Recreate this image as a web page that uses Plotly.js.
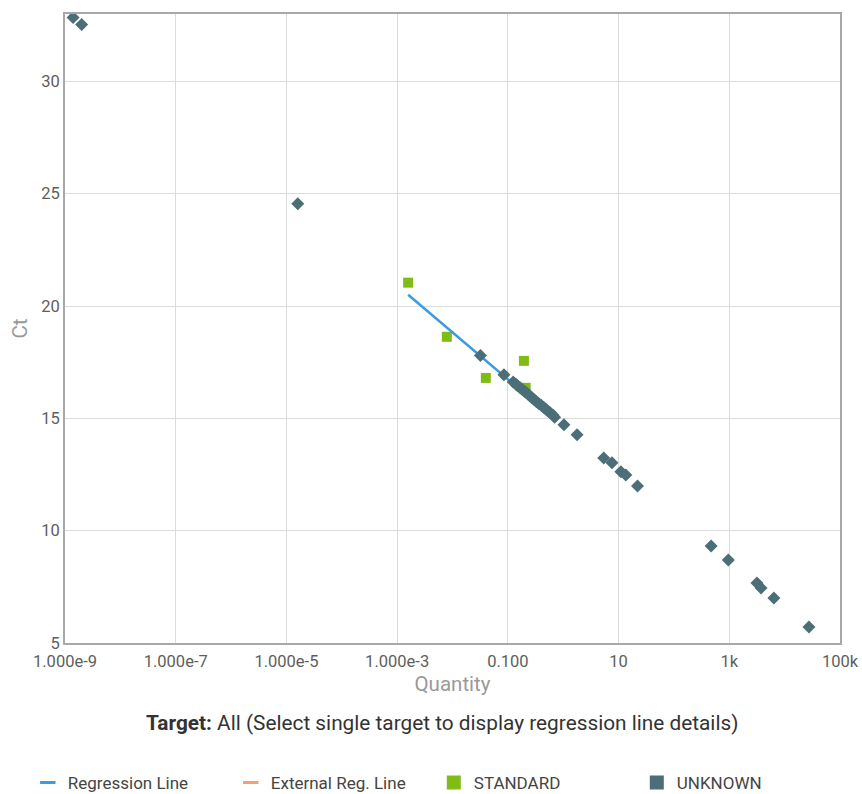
<!DOCTYPE html>
<html>
<head>
<meta charset="utf-8">
<script src="https://cdn.plot.ly/plotly-3.0.1.min.js"></script>
<style>html,body{margin:0;padding:0;background:#fff;}#chart{width:862px;height:794px;}</style>
</head>
<body>
<div id="chart"></div>
<script>
// STANDARD samples
const stdQty = [0.00158, 0.0079, 0.040, 0.195, 0.21];
const stdCt  = [21.04, 18.63, 16.80, 17.56, 16.36];

// UNKNOWN samples
const unkQty = [1.4e-9, 2.0e-9, 1.6e-5, 0.032, 0.085,
  0.125, 0.14, 0.15, 0.165, 0.18, 0.20, 0.21, 0.23, 0.25, 0.27,
  0.30, 0.33, 0.36, 0.40, 0.44, 0.48, 0.53, 0.58, 0.65, 0.70,
  1.03, 1.78, 5.4, 7.6, 11, 13.5, 22, 470, 960, 3160, 3750, 6400, 27500];
const unkCt  = [32.84, 32.53, 24.55, 17.80, 16.94,
  16.62, 16.52, 16.45, 16.37, 16.30, 16.20, 16.17, 16.08, 15.99, 15.93,
  15.83, 15.74, 15.66, 15.58, 15.49, 15.42, 15.33, 15.25, 15.15, 15.05,
  14.71, 14.27, 13.24, 13.02, 12.62, 12.48, 11.99, 9.32, 8.70, 7.67, 7.45, 7.00, 5.71];

// Regression line endpoints
const regQty = [0.00158, 0.21];
const regCt  = [20.50, 16.07];

// Axis ticks
const xTickVals = [1e-9, 1e-7, 1e-5, 1e-3, 0.1, 10, 1000, 100000];
const xTickText = ['1.000e-9', '1.000e-7', '1.000e-5', '1.000e-3', '0.100', '10', '1k', '100k'];
const yTickVals = [5, 10, 15, 20, 25, 30];

const legendNames = ['Regression Line', 'External Reg. Line', 'STANDARD', 'UNKNOWN'];

const cBlue = '#3a9be3', cOrange = '#f0a274', cGreen = '#80bc16', cSlate = '#4b6e77';
const FONT = 'Roboto, "Open Sans", sans-serif';

const traces = [
  {x: stdQty, y: stdCt, type: 'scatter', mode: 'markers', showlegend: false,
   marker: {symbol: 'square', size: 10, color: cGreen}},
  {x: regQty, y: regCt, type: 'scatter', mode: 'lines', showlegend: false,
   line: {color: cBlue, width: 2.5}},
  {x: unkQty, y: unkCt, type: 'scatter', mode: 'markers', showlegend: false,
   marker: {symbol: 'diamond', size: 10, color: cSlate}},
  // legend entries
  {x: [null], y: [null], type: 'scatter', mode: 'markers', name: legendNames[0],
   marker: {symbol: 'line-ew-open', size: 11, color: cBlue, line: {color: cBlue, width: 3}}},
  {x: [null], y: [null], type: 'scatter', mode: 'markers', name: legendNames[1],
   marker: {symbol: 'line-ew-open', size: 11, color: cOrange, line: {color: cOrange, width: 3}}},
  {x: [null], y: [null], type: 'scatter', mode: 'markers', name: legendNames[2],
   marker: {symbol: 'square', size: 14, color: cGreen}},
  {x: [null], y: [null], type: 'scatter', mode: 'markers', name: legendNames[3],
   marker: {symbol: 'square', size: 14, color: cSlate}}
];

const layout = {
  width: 862, height: 794,
  margin: {l: 65, r: 22, t: 14, b: 151, autoexpand: false},
  paper_bgcolor: '#fff', plot_bgcolor: '#fff',
  font: {family: FONT, color: '#555', size: 16},
  showlegend: true,
  xaxis: {
    type: 'log', range: [-9, 5],
    tickmode: 'array', tickvals: xTickVals, ticktext: xTickText,
    showgrid: true, gridcolor: '#dcdcdc', gridwidth: 1,
    showline: true, linecolor: '#a8a8a8', linewidth: 2, mirror: true,
    zeroline: false, ticks: '', ticklabelstandoff: 2,
    tickfont: {family: FONT, size: 16.5, color: '#5e5e5e'},
    title: {text: 'Quantity', font: {family: FONT, size: 20.5, color: '#999'}, standoff: 7}
  },
  yaxis: {
    range: [5, 33],
    tickmode: 'array', tickvals: yTickVals,
    showgrid: true, gridcolor: '#dcdcdc', gridwidth: 1,
    showline: true, linecolor: '#a8a8a8', linewidth: 2, mirror: true,
    zeroline: false, ticks: '',
    tickfont: {family: FONT, size: 16.5, color: '#5e5e5e'},
    title: {text: 'Ct', font: {family: FONT, size: 20.5, color: '#999'}, standoff: 8}
  },
  annotations: [{
    xref: 'paper', yref: 'paper', x: 0.486, y: -0.1272,
    xanchor: 'center', yanchor: 'middle', showarrow: false,
    text: '<b>Target:</b> All (Select single target to display regression line details)',
    font: {family: FONT, size: 20.8, color: '#333'}
  }],
  legend: {
    orientation: 'h', xref: 'paper', yref: 'paper',
    x: -0.048, y: -0.2226, xanchor: 'left', yanchor: 'middle',
    entrywidth: 158, itemwidth: 30,
    font: {family: FONT, size: 17, color: '#444'},
    bgcolor: 'rgba(0,0,0,0)'
  }
};

Plotly.newPlot('chart', traces, layout, {displayModeBar: false, staticPlot: true});
</script>
</body>
</html>
